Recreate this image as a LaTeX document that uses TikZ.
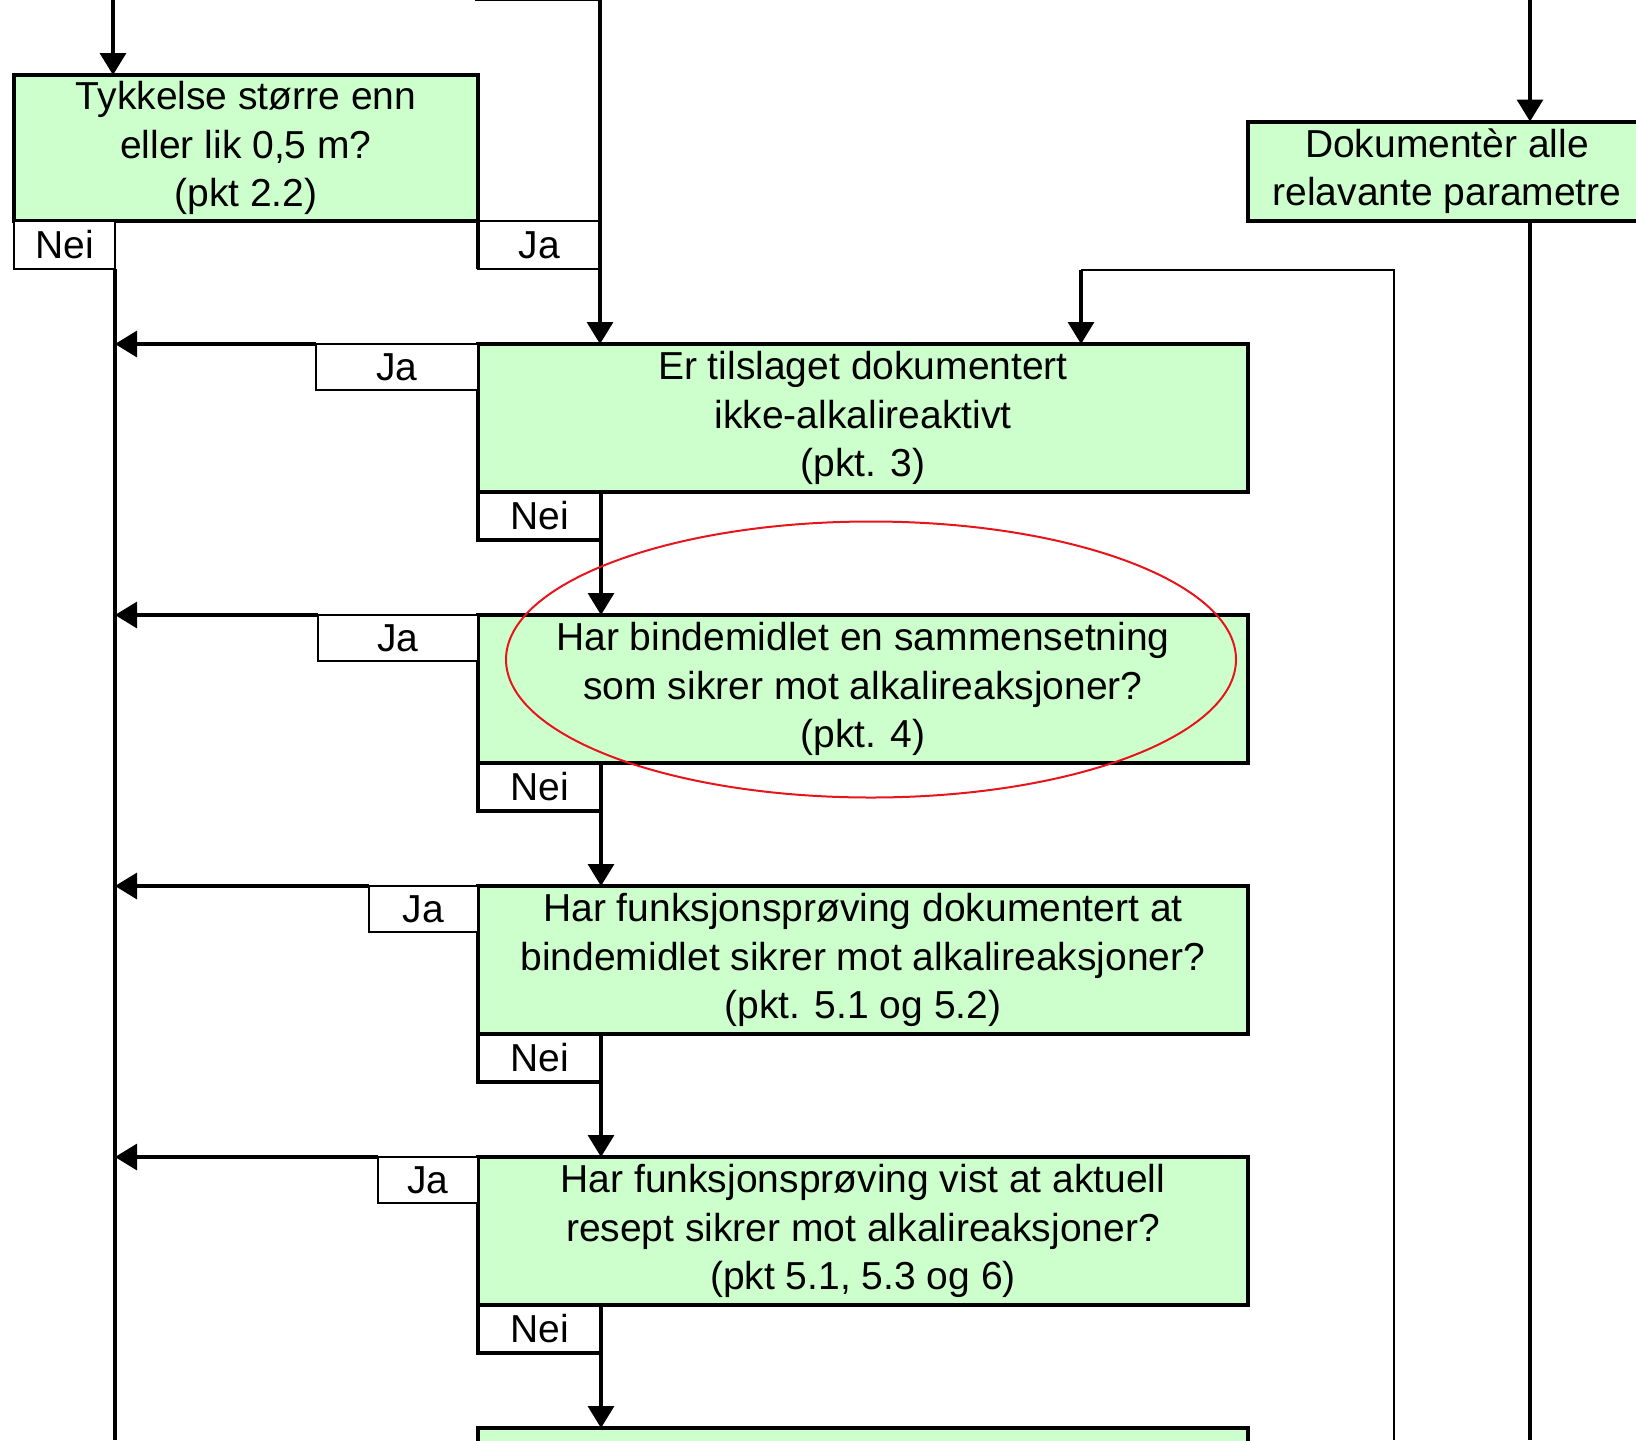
\documentclass[tikz,border=0pt]{standalone}
\usepackage{fontspec}
\setmainfont{Liberation Sans}
\usetikzlibrary{positioning,arrows.meta}
\definecolor{boxgreen}{HTML}{CCFFCC}
\definecolor{ringred}{HTML}{E8141B}

\tikzset{
  question/.style={draw,line width=2pt,fill=boxgreen,align=center,inner sep=1pt,outer sep=0pt,minimum width=385pt,minimum height=74pt},
  jabox/.style={draw,line width=1pt,fill=white,inner sep=0pt,outer sep=0pt,minimum height=23pt},
  neibox/.style={draw,line width=2pt,fill=white,inner sep=0pt,outer sep=0pt,minimum width=61.5pt,minimum height=24pt},
  conn/.style={line width=1.6pt,-{Triangle[width=13pt,length=11pt]}},
  thinline/.style={line width=1pt},
}

\begin{document}
\begin{tikzpicture}[x=0.5pt,y=-0.5pt,node distance=61.5pt,font=\fontsize{19.5}{24.3}\selectfont]
    \useasboundingbox (0,0) rectangle (1636,1440);
    \clip (0,0) rectangle (1636,1440);
    % ends coming in from above / going out below
    \coordinate (in1) at (113,0);
    \coordinate (in2a) at (475,0);
    \coordinate (in2) at (600,0);
    \coordinate (in3) at (1530,0);
    \coordinate (bot) at (0,1440);
    \coordinate (loopcorner) at (1081,270);
    \coordinate (loopbot) at (1394,1440);

    \node[question,minimum width=232pt,minimum height=73pt] (q1) at (246,148) {Tykkelse større enn\\eller lik 0,5 m?\\(pkt 2.2)};
    \node[question] (q2) at (863,418) {Er tilslaget dokumentert\\ikke-alkalireaktivt\\(pkt. 3)};
    \node[question,below=of q2] (q3) {Har bindemidlet en sammensetning\\som sikrer mot alkalireaksjoner?\\(pkt. 4)};
    \node[question,below=of q3] (q4) {Har funksjonsprøving dokumentert at\\bindemidlet sikrer mot alkalireaksjoner?\\(pkt. 5.1 og 5.2)};
    \node[question,below=of q4] (q5) {Har funksjonsprøving vist at aktuell\\resept sikrer mot alkalireaksjoner?\\(pkt 5.1, 5.3 og 6)};
    \node[question,below=of q5] (q6) {};
    \node[question,minimum width=199pt,minimum height=49.5pt] (dok) at (1447,171) {Dokumentèr alle\\relavante parametre};

    % Ja / Nei tabs
    \node[neibox,minimum width=50.5pt,line width=1pt,below right=0pt and 0pt of q1.south west] (nei1) {Nei};
    \node[jabox,minimum width=61.5pt,minimum height=24pt,below right=0pt and 0pt of q1.south east] (ja1) {Ja};
    \node[jabox,minimum width=81pt,below left=0pt and 0pt of q2.north west] (ja2) {Ja};
    \node[neibox,below right=0pt and 0pt of q2.south west] (nei2) {Nei};
    \node[jabox,minimum width=80pt,below left=0pt and 0pt of q3.north west] (ja3) {Ja};
    \node[neibox,below right=0pt and 0pt of q3.south west] (nei3) {Nei};
    \node[jabox,minimum width=54.5pt,below left=0pt and 0pt of q4.north west] (ja4) {Ja};
    \node[neibox,below right=0pt and 0pt of q4.south west] (nei4) {Nei};
    \node[jabox,minimum width=50pt,below left=0pt and 0pt of q5.north west] (ja5) {Ja};
    \node[neibox,below right=0pt and 0pt of q5.south west] (nei5) {Nei};
    \draw[line width=2pt] (q1.south east) -- (ja1.south west);

    \draw[conn] (in1) -- (in1 |- q1.north);
    \draw[thinline] (in2a) -- (in2);
    \draw[conn] (in2) -- (in2 |- q2.north);
    \draw[conn] (in3) -- (in3 |- dok.north);
    \draw[line width=1.6pt] (in3 |- dok.south) -- (in3 |- bot);
    \draw[line width=1.6pt] (nei1.south east) -- (nei1.south east |- bot);
    \draw[thinline] (loopbot) |- (loopcorner);
    \draw[conn] (loopcorner) -- (loopcorner |- q2.north);
    \foreach \k in {2,...,5} {\draw[conn] (ja\k.north west) -- (ja\k.north west -| nei1.south east);}
    \foreach \k/\m in {2/3,3/4,4/5,5/6} {\draw[conn] (nei\k.south east) -- (nei\k.south east |- q\m.north);}

    % red ring round pkt. 4
    \draw[ringred,line width=1pt] (871,659.5) ellipse [x radius=182.5pt,y radius=69pt];
\end{tikzpicture}
\end{document}
